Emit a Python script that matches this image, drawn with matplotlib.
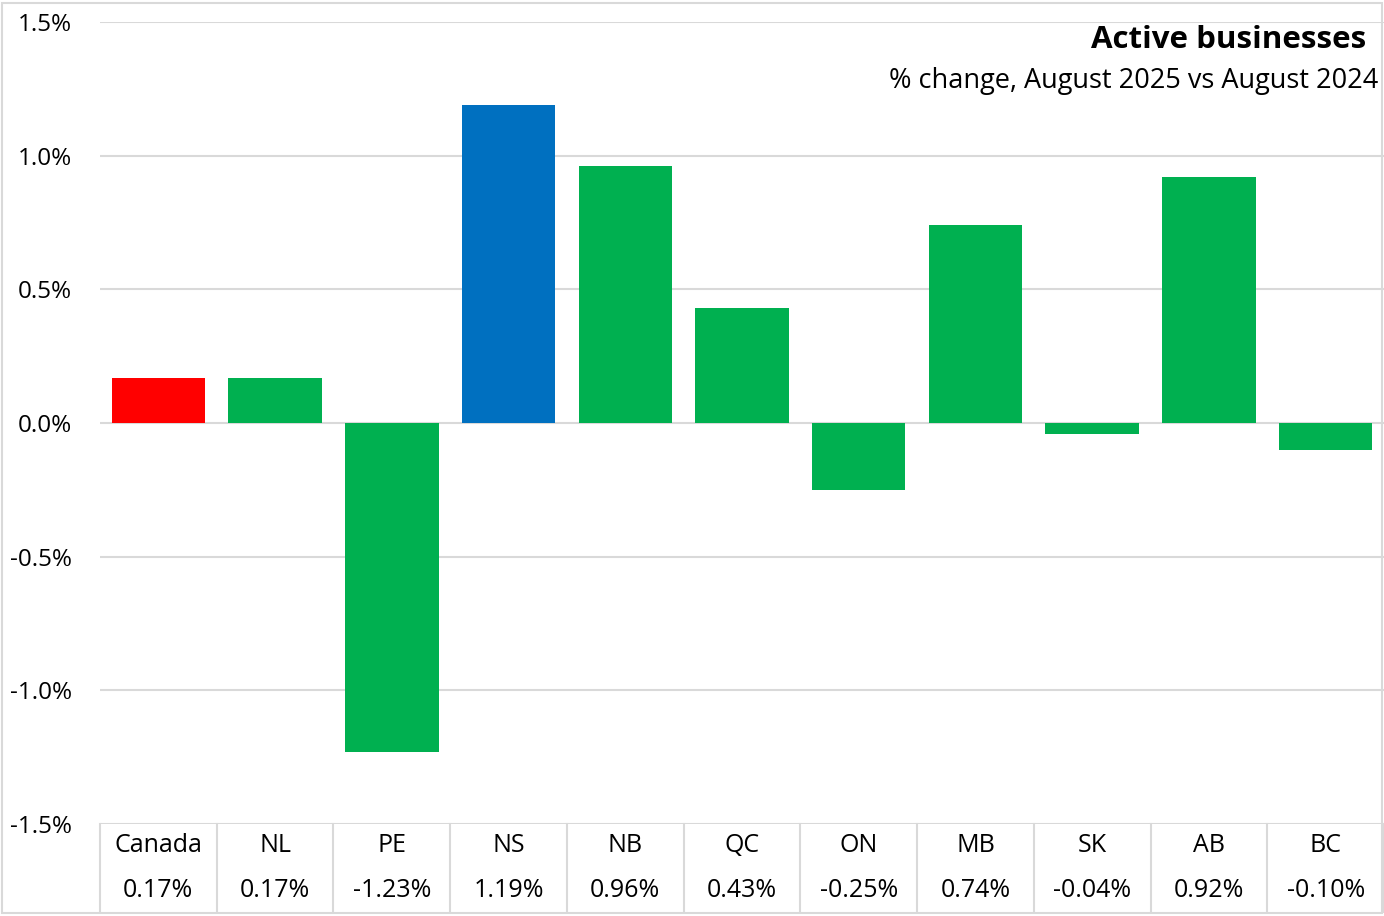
import numpy as np
import matplotlib.pyplot as plt
from matplotlib.patches import Rectangle

plt.rcParams['font.family'] = ['Open Sans', 'DejaVu Sans']

# data
regions = ["Canada", "NL", "PE", "NS", "NB", "QC", "ON", "MB", "SK", "AB", "BC"]
changes = [0.17, 0.17, -1.23, 1.19, 0.96, 0.43, -0.25, 0.74, -0.04, 0.92, -0.10]
highlight = {"Canada": "#FF0000", "NS": "#0070C0"}
base_color = "#00B050"
yticks = [-1.5, -1.0, -0.5, 0.0, 0.5, 1.0, 1.5]

grid_c = "#D9D9D9"

fig = plt.figure(figsize=(13.84, 9.16), dpi=100)
ax = fig.add_axes([100 / 1384, 1 - 824 / 916, 1 - 100 / 1384, (824 - 22) / 916])

x = np.arange(len(regions))
colors = [highlight.get(r, base_color) for r in regions]
ax.bar(x, changes, width=0.8, color=colors, zorder=3)

ax.set_xlim(-0.5, len(regions) - 0.5)
ax.set_ylim(-1.5, 1.5)
ax.set_yticks(yticks)
ax.set_yticklabels([f"{v:.1f}%" for v in yticks], fontsize=17.5)
ax.tick_params(axis='y', length=0, pad=20)
ax.set_xticks([])
for s in ax.spines.values():
    s.set_visible(False)
ax.grid(axis='y', color=grid_c, linewidth=1.5, zorder=0)

# data table under the plot
trans = ax.get_xaxis_transform()
for i, (r, v) in enumerate(zip(regions, changes)):
    ax.text(i, -0.027, r, transform=trans, ha='center', va='center',
            fontsize=18, clip_on=False)
    ax.text(i, -0.083, f"{v:.2f}%", transform=trans, ha='center', va='center',
            fontsize=18, clip_on=False)
for b in np.arange(-0.5, len(regions)):
    ax.plot([b, b], [0, -0.11], transform=trans, color=grid_c, linewidth=1.5,
            clip_on=False)

# title block
fig.text(1366 / 1384, 1 - 40 / 916, "Active businesses", ha='right', va='center',
         fontsize=22.5, fontweight='bold')
fig.text(1378 / 1384, 1 - 81 / 916, "% change, August 2025 vs August 2024",
         ha='right', va='center', fontsize=19.5)

# outer border
fig.patches.append(Rectangle((0.0015, 0.003), 0.997, 0.994, transform=fig.transFigure,
                             fill=False, edgecolor=grid_c, linewidth=1.5))

fig.savefig("out.png", dpi=100)
